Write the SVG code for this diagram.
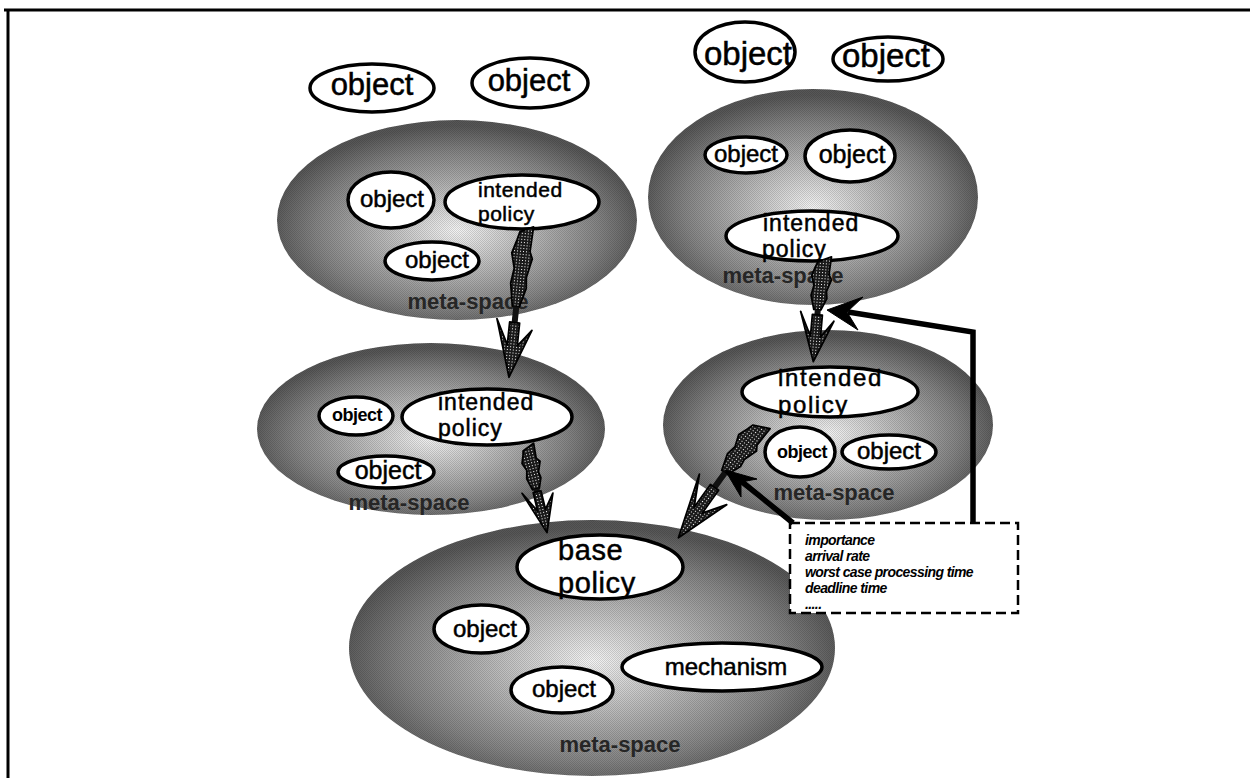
<svg xmlns="http://www.w3.org/2000/svg" width="1250" height="778" viewBox="0 0 1250 778">
<defs>
<radialGradient id="ms" cx="0.5" cy="0.55" r="0.52">
<stop offset="0" stop-color="#f4f4f4"/>
<stop offset="0.35" stop-color="#c0c0c0"/>
<stop offset="0.75" stop-color="#858585"/>
<stop offset="1" stop-color="#575757"/>
</radialGradient>
<pattern id="dots" width="3" height="3" patternUnits="userSpaceOnUse">
<rect width="3" height="3" fill="#1a1a1a"/>
<rect x="1" y="1" width="1" height="1" fill="#fff"/>
</pattern>
<pattern id="grain" width="2" height="2" patternUnits="userSpaceOnUse">
<rect width="1" height="1" fill="#000"/>
<rect x="1" y="1" width="1" height="1" fill="#000"/>
</pattern>
<style>
.ms{fill:url(#ms);stroke:none}
.grain{fill:url(#grain);opacity:0.14}
.ob{fill:#fff;stroke:#000;stroke-width:3.5}
.t{font-family:"Liberation Sans",Arial,sans-serif;fill:#000;stroke:#000;stroke-width:0.5}
.tb{font-family:"Liberation Sans",Arial,sans-serif;font-weight:bold;fill:#000}
.lbl{font-family:"Liberation Sans",Arial,sans-serif;font-weight:bold;font-size:22px;fill:#262626;text-anchor:middle}
.it{font-family:"Liberation Sans",Arial,sans-serif;font-weight:bold;font-style:italic;font-size:14px;fill:#000;letter-spacing:-0.6px}
.da{fill:url(#dots);stroke:#000;stroke-width:1.8;stroke-linejoin:round}
.sh{stroke:#111;stroke-width:6;fill:none}
.bl{stroke:#000;stroke-width:5.5;fill:none;stroke-linejoin:miter}
.bh{fill:#000;stroke:#000;stroke-width:1}
.c{text-anchor:middle}
</style>
</defs>
<rect width="1250" height="778" fill="#fff"/>
<g id="frame" stroke="#000" stroke-width="3">
<line x1="4" y1="10" x2="1250" y2="10"/>
<line x1="8" y1="10" x2="8" y2="778"/>
</g>

<g id="free-objects-left">
<g id="obj-free-1"><ellipse class="ob" cx="372" cy="88" rx="62" ry="24"/><text class="t c" x="372" y="95" font-size="31">object</text></g>
<g id="obj-free-2"><ellipse class="ob" cx="530" cy="83" rx="58" ry="25"/><text class="t c" x="529" y="91" font-size="31">object</text></g>
</g>
<g id="free-objects-right">
<g id="obj-free-3"><ellipse class="ob" cx="745" cy="52" rx="50" ry="30"/><text class="t c" x="748" y="65" font-size="33">object</text></g>
<g id="obj-free-4"><ellipse class="ob" cx="888" cy="59" rx="55" ry="22"/><text class="t c" x="886" y="67" font-size="33">object</text></g>
</g>

<g id="metaspace-bottom">
<ellipse class="ms" cx="592" cy="648" rx="243" ry="128"/>
<ellipse class="grain" cx="592" cy="648" rx="243" ry="128"/>
<g id="base-policy"><ellipse class="ob" cx="600" cy="567" rx="83" ry="32"/><text class="t" x="558" y="560" font-size="29" letter-spacing="0.6">base</text><text class="t" x="558" y="593" font-size="29" letter-spacing="0.6">policy</text></g>
<g id="obj-b1"><ellipse class="ob" cx="481" cy="629" rx="47" ry="24"/><text class="t c" x="485" y="637" font-size="24">object</text></g>
<g id="obj-b2"><ellipse class="ob" cx="562" cy="690" rx="51" ry="23"/><text class="t c" x="564" y="697" font-size="24">object</text></g>
<g id="mechanism"><ellipse class="ob" cx="722" cy="667" rx="100" ry="24"/><text class="t c" x="726" y="675" font-size="24">mechanism</text></g>
<text class="lbl" x="620" y="752">meta-space</text>
</g>

<g id="metaspace-top-left">
<ellipse class="ms" cx="457" cy="220" rx="180" ry="100"/>
<ellipse class="grain" cx="457" cy="220" rx="180" ry="100"/>
<g id="obj-tl1"><ellipse class="ob" cx="391" cy="200" rx="43" ry="28"/><text class="t c" x="392" y="207" font-size="24">object</text></g>
<g id="policy-tl"><ellipse class="ob" cx="522" cy="202" rx="77" ry="27"/><text class="t" x="478" y="197" font-size="21" letter-spacing="0.5">intended</text><text class="t" x="478" y="221" font-size="21" letter-spacing="0.5">policy</text></g>
<g id="obj-tl2"><ellipse class="ob" cx="432" cy="261" rx="47" ry="19"/><text class="t c" x="437" y="268" font-size="24">object</text></g>
<text class="lbl" x="468" y="309">meta-space</text>
</g>

<g id="metaspace-top-right">
<ellipse class="ms" cx="813" cy="197" rx="165" ry="108"/>
<ellipse class="grain" cx="813" cy="197" rx="165" ry="108"/>
<g id="obj-tr1"><ellipse class="ob" cx="746" cy="155" rx="41" ry="18"/><text class="t c" x="746" y="162" font-size="24">object</text></g>
<g id="obj-tr2"><ellipse class="ob" cx="850" cy="156" rx="45" ry="26"/><text class="t c" x="852" y="163" font-size="25">object</text></g>
<g id="policy-tr"><ellipse class="ob" cx="812" cy="236" rx="86" ry="25"/><text class="t" x="763" y="231" font-size="23" letter-spacing="1">intended</text><text class="t" x="762" y="257" font-size="23" letter-spacing="1">policy</text></g>
<text class="lbl" x="783" y="283">meta-space</text>
</g>

<g id="metaspace-mid-left">
<ellipse class="ms" cx="431" cy="429" rx="174" ry="86"/>
<ellipse class="grain" cx="431" cy="429" rx="174" ry="86"/>
<g id="obj-ml1"><ellipse class="ob" cx="356" cy="416" rx="37" ry="19"/><text class="tb c" x="357" y="421" font-size="18" letter-spacing="-0.5">object</text></g>
<g id="policy-ml"><ellipse class="ob" cx="487" cy="417" rx="85" ry="28"/><text class="t" x="438" y="410" font-size="23" letter-spacing="1">intended</text><text class="t" x="438" y="436" font-size="23" letter-spacing="1">policy</text></g>
<g id="obj-ml2"><ellipse class="ob" cx="386" cy="472" rx="48" ry="16"/><text class="t c" x="388" y="479" font-size="25">object</text></g>
<text class="lbl" x="409" y="510">meta-space</text>
</g>

<g id="metaspace-mid-right">
<ellipse class="ms" cx="828" cy="425" rx="165" ry="95"/>
<ellipse class="grain" cx="828" cy="425" rx="165" ry="95"/>
<g id="policy-mr"><ellipse class="ob" cx="830" cy="392" rx="88" ry="25"/><text class="t" x="778" y="386" font-size="24" letter-spacing="1.6">intended</text><text class="t" x="778" y="413" font-size="24" letter-spacing="1.6">policy</text></g>
<g id="obj-mr1"><ellipse class="ob" cx="800" cy="452" rx="35" ry="25"/><text class="tb c" x="802" y="458" font-size="18" letter-spacing="-0.5">object</text></g>
<g id="obj-mr2"><ellipse class="ob" cx="889" cy="452" rx="47" ry="17"/><text class="t c" x="889" y="459" font-size="24">object</text></g>
<text class="lbl" x="834" y="500">meta-space</text>
</g>

<g id="attribute-box">
<rect x="790" y="523" width="228" height="90" fill="#fff" stroke="#000" stroke-width="2.5" stroke-dasharray="10 5"/>
<text class="it" x="805" y="545">importance</text>
<text class="it" x="805" y="561">arrival rate</text>
<text class="it" x="805" y="577">worst case processing time</text>
<text class="it" x="805" y="593">deadline time</text>
<text class="it" x="805" y="609">.....</text>
</g>

<g id="connectors">
<g id="arrow-tl-ml" transform="translate(524,232) rotate(5.9)">
<path class="da" d="M-4,0 L9,-6 L8,19 L11,26 L7,45 L8,56 L3,75 L-4,75 L-8,52 L-6,37 L-10,22 L-6,8 Z"/>
<path class="sh" d="M0,75 L0,100"/>
<path class="da" d="M0,146 L-18,89 L-5,114 L-5,91 L5,91 L5,114 L18,97 Z"/>
</g>
<g id="arrow-ml-b" transform="translate(527,450) rotate(-13.6)">
<path class="da" d="M-4,0 L8,-5 L7,10 L10,14 L6,24 L7,30 L3,40 L-4,40 L-7,28 L-5,20 L-8,12 L-5,4 Z"/>
<path class="sh" d="M0,40 L0,55"/>
<path class="da" d="M0,85 L-15,41 L-4,62 L-4,43 L4,43 L4,62 L15,48 Z"/>
</g>
<g id="arrow-mr-b" transform="translate(757,428) rotate(35.6)">
<path class="da" d="M-5,0 L11,-7 L10,14 L13,19 L8,33 L9,41 L3,55 L-4,55 L-9,38 L-7,28 L-11,16 L-7,6 Z"/>
<path class="sh" d="M0,55 L0,85"/>
<path class="da" d="M0,135 L-20,71 L-5,101 L-5,73 L5,73 L5,101 L20,80 Z"/>
</g>
<g id="arrow-tr-mr" transform="translate(822,262) rotate(5)">
<path class="da" d="M-4,0 L9,-6 L8,12 L11,17 L7,29 L8,36 L3,48 L-4,48 L-8,34 L-6,24 L-9,14 L-6,5 Z"/>
<path class="sh" d="M0,48 L0,65"/>
<path class="da" d="M0,100 L-17,51 L-5,75 L-5,53 L5,53 L5,75 L17,58 Z"/>
</g>
<g id="arrow-box-mr">
<path class="bl" d="M793,523 L741,481"/>
<path class="bh" d="M725,470 L757,479 L741,482 L741,497 Z"/>
</g>
<g id="arrow-box-tr">
<path class="bl" d="M973,523 L973,332 L848,312"/>
<path class="bh" d="M827,310 L863,297 L847,312 L858,330 Z"/>
</g>
</g>
</svg>
